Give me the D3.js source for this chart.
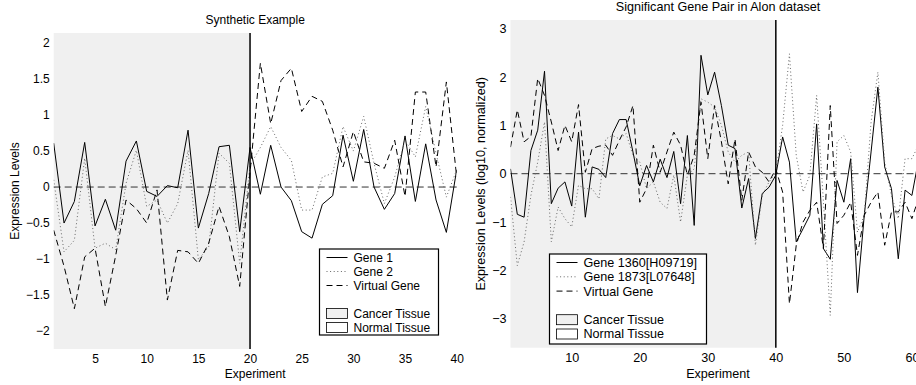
<!DOCTYPE html>
<html>
<head>
<meta charset="utf-8">
<script src="https://cdnjs.cloudflare.com/ajax/libs/d3/7.8.5/d3.min.js"></script>
<style>
  body { margin: 0; background: #fff; }
  text { font-family: "Liberation Sans", Arial, sans-serif; fill: #000; }
</style>
</head>
<body>
<div id="chart"></div>
<script>
// left panel: synthetic example, 40 experiments (1-20 cancer)
const synGene1 = [0.61, -0.50, -0.20, 0.62, -0.54, -0.17, -0.60, 0.36, 0.64, -0.06,
  -0.13, 0.02, -0.01, 0.79, -0.57, -0.09, 0.56, 0.58, -0.62, 0.55,
  -0.10, 0.58, 0.00, -0.19, -0.62, -0.71, -0.24, -0.12, 0.72, 0.08,
  0.80, 0.00, -0.31, -0.09, 0.71, -0.20, 0.60, -0.18, -0.63, 0.24];
const synGene2 = [0.10, -0.90, -0.74, 0.40, -0.85, -0.78, -0.87, 0.05, 0.51, -0.27,
  -0.18, -0.50, -0.23, 0.51, -1.01, -0.83, 0.47, 0.33, -1.06, 0.30,
  0.55, 0.84, 0.55, 0.37, -0.32, -0.32, 0.14, 0.19, 0.84, 0.50,
  0.98, 0.33, -0.23, 0.14, 0.65, 0.42, 1.12, 0.47, -0.14, 0.24];
const synVirtual = [-0.60, -1.10, -1.69, -0.97, -0.85, -1.66, -0.95, -0.18, -0.30, -0.50,
  -0.04, -1.57, -0.88, -0.90, -1.06, -0.78, -0.27, -0.69, -1.38, 0.20,
  1.72, 0.88, 1.48, 1.65, 1.05, 1.26, 1.19, 0.79, 0.28, 0.77,
  0.35, 0.33, 0.26, 0.65, -0.13, 1.32, 1.32, 0.28, 1.46, 0.14];
const synYTicks = [-2, -1.5, -1, -0.5, 0, 0.5, 1, 1.5, 2];
const synXTicks = [5, 10, 15, 20, 25, 30, 35, 40];

// right panel: Alon colon dataset, 62 samples (1-40 cancer)
const alonGeneA = [0.10, -0.84, -0.90, 0.48, 0.90, 2.12, -0.62, -0.30, -0.17, -0.67,
  0.86, -0.90, 0.14, 0.09, -0.08, 0.83, 1.12, 1.12, 0.45, -0.25,
  0.17, -0.17, 0.30, -0.08, 0.46, -0.62, 0.79, -1.07, 2.45, 1.63,
  2.10, 1.41, 0.59, 0.52, -0.71, -0.10, -1.34, -0.41, -0.28, -0.03,
  0.76, 0.24, -1.41, -1.14, -0.86, 1.03, -1.55, -1.77, -0.14, -0.59,
  0.31, -2.46, -0.86, 0.45, 1.79, 0.14, -0.31, -1.76, -0.34, -0.45,
  0.30, -0.20];
const alonGeneB = [-0.48, -1.90, -1.41, -0.45, 0.24, 1.07, -1.41, -0.69, -0.93, -1.10,
  -0.24, -0.31, -0.31, -0.52, 0.72, 0.79, 0.72, 0.83, 0.38, 0.24,
  -0.31, -0.17, -0.59, -0.72, -0.03, -1.00, -0.03, 0.10, 1.55, 1.48,
  1.38, 1.00, 0.45, 0.24, 0.38, 0.45, -1.48, -0.45, -0.17, 0.03,
  1.00, 2.48, 0.38, -0.38, -0.03, 1.62, -0.59, -2.93, 0.66, 0.79,
  0.45, -1.21, -0.86, 1.07, 2.10, 0.24, -0.45, -0.93, 0.31, 0.31,
  0.60, 0.20];
const alonVirtual = [0.55, 1.32, 0.66, 0.77, 1.97, 1.62, 1.07, 0.48, 1.00, 0.66,
  1.43, 0.03, 0.52, 0.57, 0.59, 0.38, 0.69, 0.97, 1.41, -0.59,
  -0.31, 0.59, 0.03, 0.45, 0.86, 0.59, -0.03, 0.38, 1.48, 0.31,
  1.41, 0.66, -0.21, 0.72, -0.55, 0.45, 0.14, 0.03, -0.17, 0.10,
  -0.38, -2.69, -1.48, -1.00, -0.76, -0.59, -1.55, 1.41, -1.03, -0.86,
  -0.59, -1.69, -0.86, -0.59, -0.38, -1.48, -0.79, -0.79, -0.59, -0.93,
  -0.50, -0.70];
const alonYTicks = [-3, -2, -1, 0, 1, 2, 3];
const alonXTicks = [10, 20, 30, 40, 50, 60];

const W = 916, H = 385;
const svg = d3.select('#chart').append('svg')
  .attr('width', W)
  .attr('height', H);

const styles = {
  solid: {stroke: '#000', dash: null},
  dotted: {stroke: '#666', dash: '1,2.6'},
  dashed: {stroke: '#000', dash: '6,4'}
};

const fmt = v => (v < 0 ? '\u2212' : '') + Math.abs(v);

function drawPanel(cfg) {
  const x = d3.scaleLinear().domain(cfg.xDomain).range([cfg.left, cfg.right]);
  const y = d3.scaleLinear().domain(cfg.yDomain).range([cfg.bottom, cfg.top]);
  const fs = cfg.fontSize;
  const g = svg.append('g');

  // cancer tissue shading
  g.append('rect')
    .attr('x', x(1))
    .attr('y', cfg.top)
    .attr('width', x(cfg.split) - x(1))
    .attr('height', cfg.bottom - cfg.top)
    .attr('fill', '#f0f0f0');

  // zero line
  g.append('line')
    .attr('x1', cfg.left).attr('x2', cfg.right)
    .attr('y1', y(0)).attr('y2', y(0))
    .attr('stroke', '#333')
    .attr('stroke-dasharray', '7,4');

  const clipId = 'clip' + cfg.id;
  svg.append('clipPath').attr('id', clipId)
    .append('rect')
    .attr('x', cfg.left).attr('y', cfg.top)
    .attr('width', cfg.right - cfg.left)
    .attr('height', cfg.bottom - cfg.top);

  const line = d3.line()
    .x((d, i) => x(i + 1))
    .y(d => y(d));

  cfg.series.forEach(s => {
    g.append('path')
      .datum(s.values)
      .attr('clip-path', `url(#${clipId})`)
      .attr('fill', 'none')
      .attr('stroke', styles[s.style].stroke)
      .attr('stroke-width', 1)
      .attr('stroke-dasharray', styles[s.style].dash)
      .attr('d', line);
  });

  // split marker
  g.append('line')
    .attr('x1', x(cfg.split)).attr('x2', x(cfg.split))
    .attr('y1', cfg.top).attr('y2', cfg.bottom)
    .attr('stroke', '#000')
    .attr('stroke-width', 1.5);

  // axes
  const yAxis = g.append('g')
    .attr('transform', `translate(${cfg.left},0)`)
    .call(d3.axisLeft(y).tickValues(cfg.yTicks).tickFormat(fmt).tickSize(0).tickPadding(4));
  const xAxis = g.append('g')
    .attr('transform', `translate(0,${cfg.bottom})`)
    .call(d3.axisBottom(x).tickValues(cfg.xTicks).tickFormat(d3.format('d')).tickSize(0).tickPadding(5));
  [yAxis, xAxis].forEach(a => {
    a.select('.domain').remove();
    a.selectAll('text').attr('font-size', fs).attr('font-family', '"Liberation Sans", Arial, sans-serif');
  });

  const cx = (cfg.left + cfg.axisRight) / 2;
  g.append('text')
    .attr('x', cx).attr('y', cfg.titleY)
    .attr('text-anchor', 'middle')
    .attr('font-size', fs)
    .text(cfg.title);
  g.append('text')
    .attr('x', cx).attr('y', 377.5)
    .attr('text-anchor', 'middle')
    .attr('font-size', fs)
    .text('Experiment');
  g.append('text')
    .attr('transform', `translate(${cfg.yLabelX},${(cfg.top + cfg.bottom) / 2}) rotate(-90)`)
    .attr('text-anchor', 'middle')
    .attr('font-size', fs)
    .text(cfg.yLabel);

  // legend
  const L = cfg.legend;
  const lg = g.append('g');
  lg.append('rect')
    .attr('x', L.x).attr('y', L.y)
    .attr('width', L.w).attr('height', L.h)
    .attr('fill', '#fff')
    .attr('stroke', '#000')
    .attr('stroke-width', 1.2);
  cfg.series.forEach((s, i) => {
    const yy = L.y + L.first + i * L.step;
    lg.append('line')
      .attr('x1', L.x + 7).attr('x2', L.x + 28)
      .attr('y1', yy).attr('y2', yy)
      .attr('stroke', styles[s.style].stroke)
      .attr('stroke-dasharray', styles[s.style].dash);
    lg.append('text')
      .attr('x', L.x + 34).attr('y', yy)
      .attr('dy', '0.35em')
      .attr('font-size', fs)
      .text(s.name);
  });
  [['Cancer Tissue', '#f0f0f0'], ['Normal Tissue', '#fff']].forEach((p, i) => {
    const yy = L.y + L.first + (4 + i) * L.step;
    lg.append('rect')
      .attr('x', L.x + 7).attr('y', yy - 5)
      .attr('width', 21).attr('height', 10)
      .attr('fill', p[1])
      .attr('stroke', '#000')
      .attr('stroke-width', 0.8);
    lg.append('text')
      .attr('x', L.x + 34).attr('y', yy)
      .attr('dy', '0.35em')
      .attr('font-size', fs)
      .text(p[0]);
  });
}

drawPanel({
  id: 'L', fontSize: 12,
  left: 53.7, right: 456.7, axisRight: 456.7, top: 33, bottom: 349,
  xDomain: [1, 40], yDomain: [-2.25, 2.14], split: 20,
  xTicks: synXTicks, yTicks: synYTicks,
  title: 'Synthetic Example', titleY: 24.3,
  yLabel: 'Expression Levels', yLabelX: 19,
  series: [
    {name: 'Gene 1', values: synGene1, style: 'solid'},
    {name: 'Gene 2', values: synGene2, style: 'dotted'},
    {name: 'Virtual Gene', values: synVirtual, style: 'dashed'}
  ],
  legend: {x: 319.5, y: 249, w: 119, h: 86, first: 8.5, step: 14}
});

drawPanel({
  id: 'R', fontSize: 12.6,
  left: 510.5, right: 925.5, axisRight: 925.5, top: 20, bottom: 347.7,
  xDomain: [1, 62], yDomain: [-3.6, 3.18], split: 40,
  xTicks: alonXTicks, yTicks: alonYTicks,
  title: 'Significant Gene Pair in Alon dataset', titleY: 10.5,
  yLabel: 'Expression Levels (log10, normalized)', yLabelX: 484.5,
  series: [
    {name: 'Gene 1360[H09719]', values: alonGeneA, style: 'solid'},
    {name: 'Gene 1873[L07648]', values: alonGeneB, style: 'dotted'},
    {name: 'Virtual Gene', values: alonVirtual, style: 'dashed'}
  ],
  legend: {x: 549.5, y: 254, w: 157, h: 90, first: 8.5, step: 14.3}
});
</script>
</body>
</html>
